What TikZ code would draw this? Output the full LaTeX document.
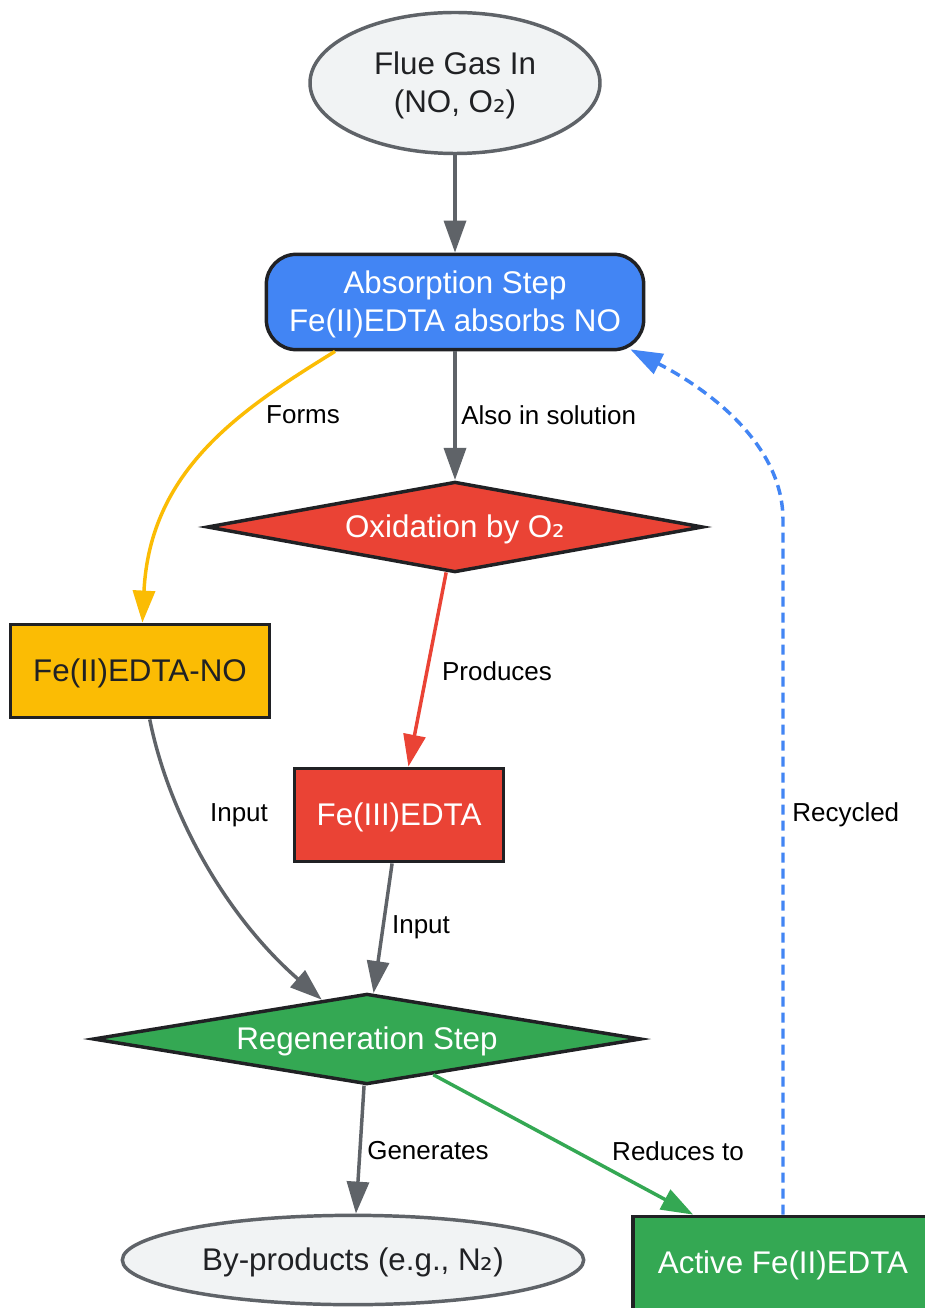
\documentclass[tikz,border=0pt]{standalone}
\usepackage{fontspec}
\setmainfont{Liberation Sans}
\newfontfamily\dejavu{DejaVu Sans}
\usetikzlibrary{shapes.geometric,arrows.meta,calc}
\definecolor{gline}{HTML}{5F6368}
\definecolor{lgray}{HTML}{F1F3F4}
\definecolor{darkc}{HTML}{202124}
\definecolor{gblue}{HTML}{4285F4}
\definecolor{gred}{HTML}{EA4335}
\definecolor{gyellow}{HTML}{FBBC04}
\definecolor{ggreen}{HTML}{34A853}
\newcommand{\subtwo}{{\dejavu ₂}}
\newcommand{\nodefont}{\fontsize{23.5pt}{28.5pt}\selectfont}
\newcommand{\lblfont}{\fontsize{19.5pt}{23pt}\selectfont}
\newcommand{\lowertxt}[1]{\raisebox{-1.5pt}[\height][\depth]{#1}}
\tikzset{
  base/.style={inner sep=0pt, font=\nodefont, align=center, line width=2.6pt},
  term/.style={base, ellipse, draw=gline, fill=lgray, text=darkc},
  proc/.style={base, rectangle, draw=darkc},
  decis/.style={base, diamond, draw=darkc, text=white},
  conn/.style={line width=2.6pt, -{Triangle[length=24pt,width=16.5pt]}},
  lbl/.style={font=\lblfont, text=black, inner sep=0pt},
}
\begin{document}
\begin{tikzpicture}[x=0.75pt, y=-0.75pt]
\useasboundingbox (0,0) rectangle (924,1308);
\fill[white] (0,0) rectangle (924,1308);

\node[term, minimum width=217.5pt, minimum height=105.75pt] (flue) at (455,83) {\lowertxt{\parbox{130pt}{\centering Flue Gas In\\(NO, O\subtwo)}}};
\node[proc, fill=gblue, text=white, rounded corners=22.5pt, minimum width=283pt, minimum height=71.5pt] (abs) at (455,302) {\lowertxt{\parbox{260pt}{\centering Absorption Step\\Fe(II)EDTA absorbs NO}}};
\node[decis, fill=gred, shape aspect=5.25, minimum width=372pt, minimum height=68pt] (oxi) at (455,527) {\lowertxt{Oxidation by O\subtwo}};
\node[proc, fill=gyellow, text=darkc, minimum width=194.5pt, minimum height=70pt] (fenot) at (140,671) {\lowertxt{Fe(II)EDTA-NO}};
\node[proc, fill=gred, text=white, minimum width=157pt, minimum height=70pt] (fe3) at (399,815) {\lowertxt{Fe(III)EDTA}};
\node[decis, fill=ggreen, shape aspect=5.79, minimum width=411pt, minimum height=68pt] (regen) at (367,1039) {\lowertxt{Regeneration Step}};
\node[term, minimum width=346pt, minimum height=67pt] (byp) at (353,1260) {\lowertxt{By-products (e.g., N\subtwo)}};
\node[proc, fill=ggreen, text=white, minimum width=225pt, minimum height=70pt] (act) at (783,1263) {\lowertxt{Active Fe(II)EDTA}};

\draw[conn, gline] (flue) -- (abs);
\draw[conn, gline] (abs) -- (oxi);
\draw[conn, gyellow] ($(abs.south)+(-120,0)$) .. controls (240,410) and (150,470) .. (fenot);
\draw[conn, gred] (oxi) -- (fe3);
\draw[conn, gline] (fenot) .. controls (170,820) and (230,920) .. (regen);
\draw[conn, gline] (fe3) -- (regen);
\draw[conn, gline] (regen) -- (byp);
\draw[conn, ggreen] (regen) -- (act);
\draw[conn, gblue, dash pattern=on 7.5pt off 4.5pt] (act.north) -- (783,520) .. controls (783,440) and (700,385) .. ($(abs.south east)+(-15,-2)$);

\node[lbl] (lforms) at (303,415) {Forms};
\node[lbl, anchor=west] (lalso) at (461,415) {Also in solution};
\node[lbl] (lprod) at (497,671) {Produces};
\node[lbl] (lin1) at (239,815) {Input};
\node[lbl] (lin2) at (421,927) {Input};
\node[lbl] (lgen) at (428,1151) {Generates};
\node[lbl] (lred) at (678,1151) {Reduces to};
\node[lbl, anchor=west] (lrec) at (792,815) {Recycled};
\end{tikzpicture}
\end{document}
